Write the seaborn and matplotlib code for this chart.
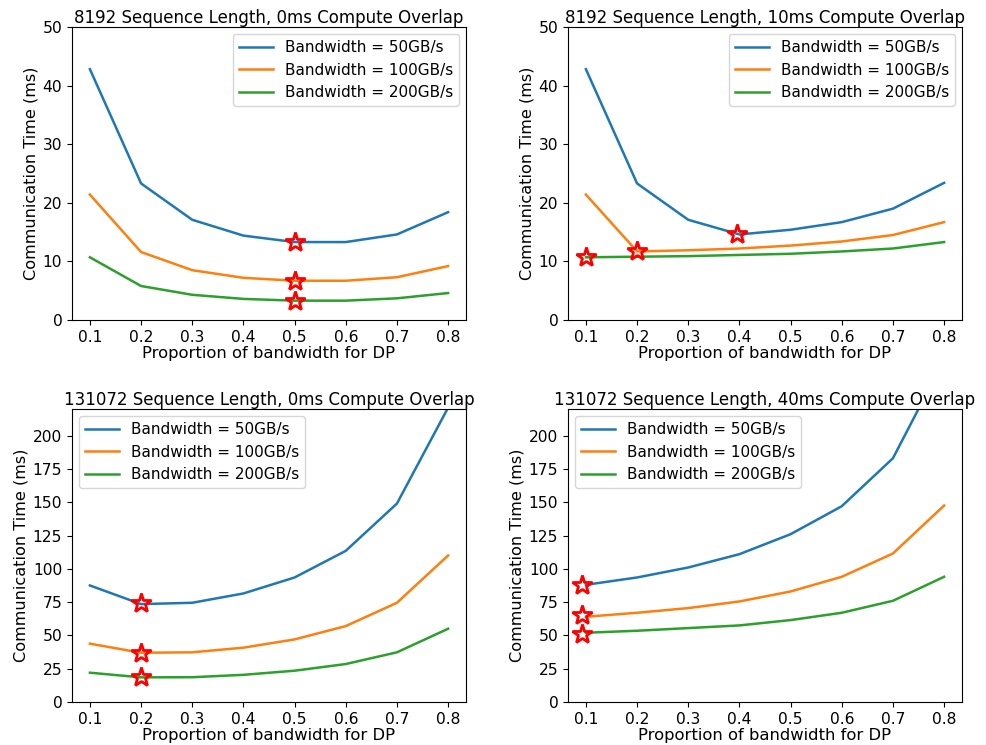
import matplotlib
matplotlib.use("Agg")
import matplotlib.pyplot as plt
import seaborn as sns
import pandas as pd

# proportion of bandwidth given to DP
proportion = [0.1, 0.2, 0.3, 0.4, 0.5, 0.6, 0.7, 0.8]
bandwidths = ["Bandwidth = 50GB/s", "Bandwidth = 100GB/s", "Bandwidth = 200GB/s"]

# 8192 seq len, 0ms overlap
s8k_0_50 = [42.8, 23.3, 17.1, 14.4, 13.3, 13.3, 14.6, 18.4]
s8k_0_100 = [21.4, 11.6, 8.5, 7.2, 6.7, 6.7, 7.3, 9.2]
s8k_0_200 = [10.7, 5.8, 4.3, 3.6, 3.3, 3.3, 3.7, 4.6]
s8k_0_star_x = [0.5, 0.5, 0.5]
s8k_0_star_y = [13.3, 6.7, 3.3]

# 8192 seq len, 10ms overlap
s8k_10_50 = [42.8, 23.3, 17.1, 14.6, 15.4, 16.7, 19.0, 23.4]
s8k_10_100 = [21.4, 11.7, 11.9, 12.2, 12.7, 13.4, 14.5, 16.7]
s8k_10_200 = [10.7, 10.8, 10.9, 11.1, 11.3, 11.7, 12.2, 13.3]
s8k_10_star_x = [0.395, 0.2, 0.1]
s8k_10_star_y = [14.6, 11.8, 10.7]

# 131072 seq len, 0ms overlap
s128k_0_50 = [87.5, 73.5, 74.5, 81.5, 93.5, 113.5, 149.0, 221.0]
s128k_0_100 = [43.8, 37.0, 37.3, 40.8, 47.0, 57.0, 74.5, 110.0]
s128k_0_200 = [22.0, 18.5, 18.6, 20.4, 23.5, 28.5, 37.3, 55.0]
s128k_0_star_x = [0.2, 0.2, 0.2]
s128k_0_star_y = [74.0, 37.0, 18.5]

# 131072 seq len, 40ms overlap
s128k_40_50 = [88.0, 93.5, 101.0, 111.0, 126.0, 147.0, 183.0, 257.0]
s128k_40_100 = [64.0, 67.0, 70.5, 75.5, 83.0, 94.0, 111.5, 147.5]
s128k_40_200 = [52.0, 53.5, 55.5, 57.5, 61.5, 67.0, 76.0, 94.0]
s128k_40_star_x = [0.092, 0.092, 0.092]
s128k_40_star_y = [88.0, 65.0, 51.0]

panels = [
    ("8192 Sequence Length, 0ms Compute Overlap", [s8k_0_50, s8k_0_100, s8k_0_200],
     s8k_0_star_x, s8k_0_star_y, 50, [0, 10, 20, 30, 40, 50], "upper right"),
    ("8192 Sequence Length, 10ms Compute Overlap", [s8k_10_50, s8k_10_100, s8k_10_200],
     s8k_10_star_x, s8k_10_star_y, 50, [0, 10, 20, 30, 40, 50], "upper right"),
    ("131072 Sequence Length, 0ms Compute Overlap", [s128k_0_50, s128k_0_100, s128k_0_200],
     s128k_0_star_x, s128k_0_star_y, 220, [0, 25, 50, 75, 100, 125, 150, 175, 200], "upper left"),
    ("131072 Sequence Length, 40ms Compute Overlap", [s128k_40_50, s128k_40_100, s128k_40_200],
     s128k_40_star_x, s128k_40_star_y, 220, [0, 25, 50, 75, 100, 125, 150, 175, 200], "upper left"),
]

plt.rcParams["font.family"] = ["DejaVu Sans"]

fig = plt.figure(figsize=(9.86, 7.45), dpi=100)
W, H = 986, 745
boxes = [(72, 27), (568, 27), (72, 409), (568, 409)]
aw, ah = 394, 293

for (title, series, sx, sy, ymax, yticks, loc), (x0, y0) in zip(panels, boxes):
    ax = fig.add_axes([x0 / W, 1 - (y0 + ah) / H, aw / W, ah / H])
    rows = []
    for name, vals in zip(bandwidths, series):
        for p, v in zip(proportion, vals):
            rows.append({"proportion": p, "time": v, "bw": name})
    df = pd.DataFrame(rows)
    sns.lineplot(data=df, x="proportion", y="time", hue="bw",
                 palette=["#1f77b4", "#ff7f0e", "#2ca02c"], linewidth=1.8, ax=ax)
    # best split marked with a hollow red star
    ax.plot(sx, sy, linestyle="none", marker="*", markersize=15,
            markerfacecolor="none", markeredgecolor="red", markeredgewidth=2.0)
    ax.set_ylim(0, ymax)
    ax.set_yticks(yticks)
    ax.set_xticks(proportion)
    ax.set_xlim(0.065, 0.835)
    ax.set_title(title, fontsize=12, pad=3)
    ax.set_xlabel("Proportion of bandwidth for DP", fontsize=11.8, labelpad=1)
    ax.set_ylabel("Communication Time (ms)", fontsize=11.6, labelpad=3)
    ax.tick_params(labelsize=11.2)
    ax.legend(loc=loc, fontsize=11, title=None, labelspacing=0.5,
              handlelength=2.2, borderaxespad=0.45)

fig.savefig("out.png", dpi=100)
